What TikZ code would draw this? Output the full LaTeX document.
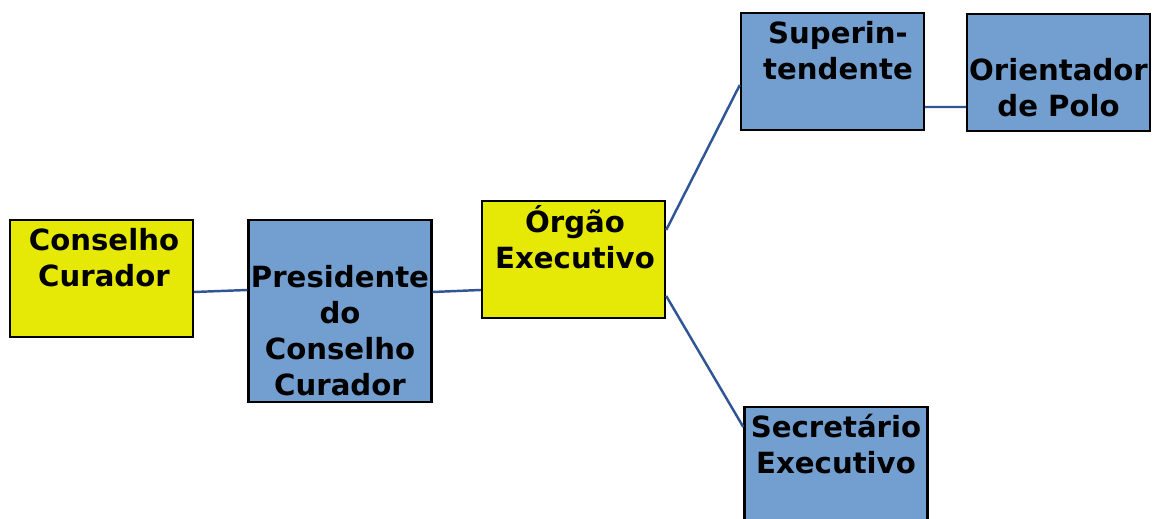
\documentclass[tikz,border=0pt]{standalone}
\usepackage{fontspec}
\setmainfont{DejaVu Sans}
\definecolor{boxyellow}{RGB}{230,233,5}
\definecolor{boxblue}{RGB}{114,159,207}
\definecolor{linkblue}{RGB}{47,85,151}
\begin{document}
\begin{tikzpicture}[x=0.02cm,y=-0.02cm]
    \tikzstyle{box} = [draw, line width=1.4pt, minimum width=3.66cm, minimum height=2.34cm, inner sep=0pt]
    \tikzstyle{txt} = [anchor=north, inner sep=0pt, align=center, font=\fontsize{16.6}{20.4}\selectfont\bfseries]
    \tikzstyle{link} = [line width=1.4pt, draw=linkblue]
    \useasboundingbox (0,0) rectangle (1160,519);

    % Left box
    \node [box, fill=boxyellow] (CC) at (101.5,278.5) {};
    \node [txt] (CCt) at (104,228) {Conselho\\Curador};

    % President box
    \node [box, fill=boxblue, minimum height=3.64cm] (PCC) at (340,311) {};
    \node [txt] (PCCt) at (340,265) {Presidente\\do\\Conselho\\Curador};
    \draw [link] ([yshift=-0.27cm]CC.east) -- ([yshift=0.42cm]PCC.west);

    % Middle box
    \node [box, fill=boxyellow] (OE) at (573.5,259.5) {};
    \node [txt] (OEt) at (575,205) {Órgão\\Executivo};
    \draw [link] ([yshift=0.38cm]PCC.east) -- ([yshift=-0.61cm]OE.west);

    % Top box
    \node [box, fill=boxblue] (SUP) at (832.5,71.5) {};
    \node [txt] (SUPt) at (838,21) {Superin-\\tendente};
    \draw [link] ([yshift=0.59cm]OE.east) -- ([yshift=-0.27cm]SUP.west);

    % Top right box
    \node [box, fill=boxblue] (ORI) at (1058.5,72.5) {};
    \node [txt] (ORIt) at (1058.5,58) {Orientador\\de Polo};
    \draw [link] ([yshift=-0.71cm]SUP.east) -- ([yshift=-0.69cm]ORI.west);

    % Bottom box
    \node [box, fill=boxblue] (SEC) at (836,465.5) {};
    \node [txt] (SECt) at (836,414) {Secretário\\Executivo};
    \draw [link] ([yshift=-0.73cm]OE.east) -- ([yshift=0.77cm]SEC.west);
\end{tikzpicture}
\end{document}
